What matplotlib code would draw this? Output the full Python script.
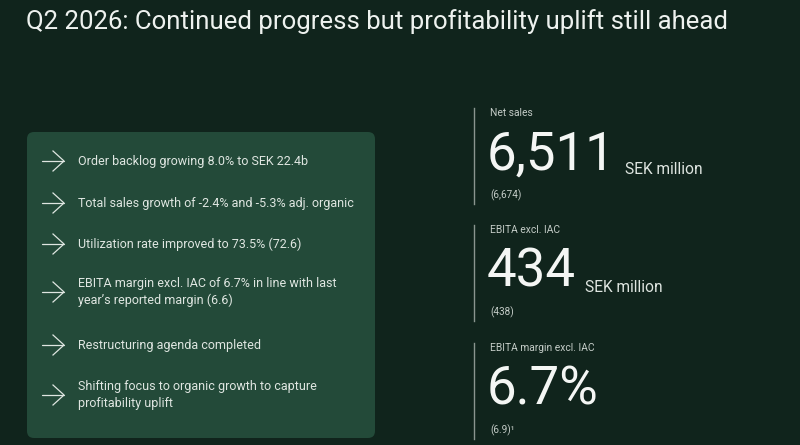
import matplotlib.pyplot as plt
from matplotlib.patches import FancyBboxPatch

# slide content
title = "Q2 2026: Continued progress but profitability uplift still ahead"
bullets = [
    "Order backlog growing 8.0% to SEK 22.4b",
    "Total sales growth of -2.4% and -5.3% adj. organic",
    "Utilization rate improved to 73.5% (72.6)",
    "EBITA margin excl. IAC of 6.7% in line with last\nyear\u2019s reported margin (6.6)",
    "Restructuring agenda completed",
    "Shifting focus to organic growth to capture\nprofitability uplift",
]
bullet_y = [161, 203, 244, 292, 345, 395]

kpi_labels = ["Net sales", "EBITA excl. IAC", "EBITA margin excl. IAC"]
kpi_values = ["6,511", "434", "6.7%"]
kpi_units = ["SEK million", "SEK million", ""]
kpi_prior = ["(6,674)", "(438)", "(6.9)\u00b9"]
kpi_top = [108, 225, 343]

bg = "#10241c"
panel = "#234a39"
txt = "#dfe6e1"
muted = "#c4ccc7"

plt.rcParams["font.family"] = ["Roboto", "DejaVu Sans"]

fig = plt.figure(figsize=(8, 4.45), dpi=100, facecolor=bg)
ax = fig.add_axes([0, 0, 1, 1])
ax.set_xlim(0, 800)
ax.set_ylim(445, 0)
ax.axis("off")
ax.set_facecolor(bg)

ax.text(26, 22, title, fontsize=18.5, color="#eef2ef", va="center", ha="left")

# left panel
box = FancyBboxPatch((27, 132), 348, 306, boxstyle="round,pad=0,rounding_size=7",
                     facecolor=panel, edgecolor="none")
ax.add_patch(box)

for y, b in zip(bullet_y, bullets):
    ax.plot([42, 64], [y, y], color=txt, lw=0.9, solid_capstyle="round")
    ax.plot([53, 64, 53], [y - 10, y, y + 10], color=txt, lw=0.9,
            solid_joinstyle="miter")
    ax.text(78, y, b, fontsize=9.0, color=txt, va="center", ha="left",
            linespacing=1.35)

# KPI column
for i in range(3):
    t = kpi_top[i]
    ax.plot([474, 474], [t, t + 96], color="#8a958f", lw=1.0)
    ax.text(490, t + 5, kpi_labels[i], fontsize=7.4, color=muted, va="center")
    big = ax.text(487, t + 47, kpi_values[i], fontsize=38, color="#f4f6f4",
                  va="center", ha="left")
    if kpi_units[i]:
        fig.canvas.draw()
        bb = big.get_window_extent()
        x_end = ax.transData.inverted().transform((bb.x1, bb.y0))[0]
        ax.text(x_end + 9, t + 62, kpi_units[i], fontsize=11.2, color=txt,
                va="center", ha="left")
    ax.text(490, t + 87, kpi_prior[i], fontsize=7.2, color=muted, va="center")

fig.savefig("out.png", dpi=100, facecolor=bg)
